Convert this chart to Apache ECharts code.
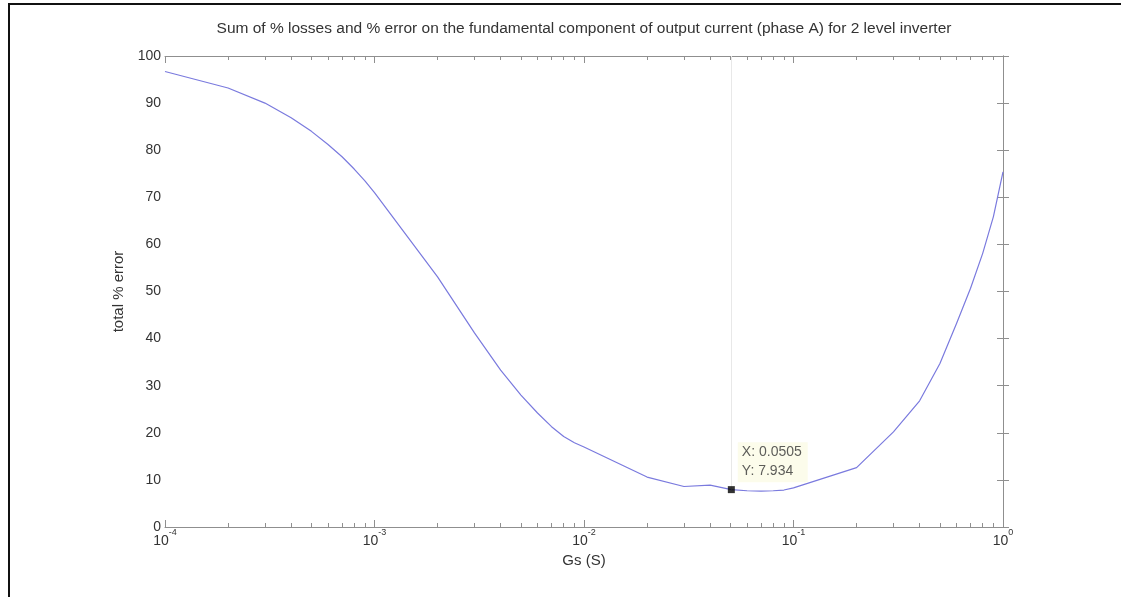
<!DOCTYPE html>
<html>
<head>
<meta charset="utf-8">
<script src="https://cdn.jsdelivr.net/npm/echarts@6/dist/echarts.min.js"></script>
<style>
html, body { margin: 0; padding: 0; background: #fff; }
#chart { width: 1121px; height: 597px; }
</style>
</head>
<body>
<div id="chart"></div>
<script>
// Gs (S) sample points and total % error
var gsValues = [
    1e-4, 2e-4, 3e-4, 4e-4, 5e-4, 6e-4, 7e-4, 8e-4, 9e-4,
    1e-3, 2e-3, 3e-3, 4e-3, 5e-3, 6e-3, 7e-3, 8e-3, 9e-3,
    1e-2, 2e-2, 3e-2, 4e-2, 0.0505, 6e-2, 7e-2, 8e-2, 9e-2,
    1e-1, 2e-1, 3e-1, 4e-1, 5e-1, 6e-1, 7e-1, 8e-1, 9e-1,
    1
];
var errValues = [
    96.7, 93.2, 90.0, 86.9, 84.0, 81.2, 78.6, 76.0, 73.5,
    71.0, 53.1, 41.2, 33.3, 28.0, 24.2, 21.3, 19.2, 17.9,
    17.0, 10.6, 8.6, 8.9, 7.934, 7.7, 7.6, 7.7, 7.85,
    8.3, 12.6, 20.2, 26.8, 34.7, 43.2, 50.7, 58.1, 65.9,
    75.4
];
var xExponents = [-4, -3, -2, -1, 0];
var minorSteps = [2, 3, 4, 5, 6, 7, 8, 9];
var yTicks = [0, 10, 20, 30, 40, 50, 60, 70, 80, 90, 100];

// data tip
var tipX = 0.0505;
var tipY = 7.934;

var titleText = 'Sum of % losses and % error on the fundamental component of output current (phase A) for 2 level inverter';
var FONT = '"Liberation Sans", Arial, sans-serif';
var axisColor = '#8f8f8f';
var textColor = '#333';

// minor tick positions in log10 units
var minorTicks = [];
for (var d = xExponents[0]; d < xExponents[xExponents.length - 1]; d++) {
    minorSteps.forEach(function (k) {
        minorTicks.push(Math.log10(k) + d);
    });
}

var lineData = gsValues.map(function (g, i) { return [g, errValues[i]]; });

function majorAxis(pos, showLabel) {
    return {
        type: 'log',
        logBase: 10,
        position: pos,
        min: Math.pow(10, xExponents[0]),
        max: Math.pow(10, xExponents[xExponents.length - 1]),
        splitNumber: 4,
        name: showLabel ? 'Gs (S)' : '',
        nameLocation: 'middle',
        nameGap: 25,
        nameTextStyle: { fontFamily: FONT, fontSize: 15, color: textColor },
        axisLine: { show: true, lineStyle: { color: axisColor, width: 1 } },
        axisTick: { show: true, inside: true, length: 7, lineStyle: { color: axisColor } },
        splitLine: { show: false },
        axisLabel: {
            show: showLabel,
            margin: 1,
            formatter: function (v) {
                var e = Math.round(Math.log10(v));
                return '{b|10}{s|' + e + '}';
            },
            rich: {
                b: { fontFamily: FONT, fontSize: 14, color: textColor, lineHeight: 20, verticalAlign: 'bottom' },
                s: { fontFamily: FONT, fontSize: 9, color: textColor, lineHeight: 11, verticalAlign: 'top' }
            }
        }
    };
}

function minorAxis(pos) {
    return {
        type: 'value',
        position: pos,
        min: xExponents[0],
        max: xExponents[xExponents.length - 1],
        axisLine: { show: false },
        axisLabel: { show: false },
        splitLine: { show: false },
        axisTick: {
            show: true, inside: true, length: 4,
            customValues: minorTicks,
            lineStyle: { color: axisColor }
        }
    };
}

function yAxis(pos, showLabel) {
    return {
        type: 'value',
        position: pos,
        min: yTicks[0],
        max: yTicks[yTicks.length - 1],
        interval: 10,
        name: showLabel ? 'total % error' : '',
        nameLocation: 'middle',
        nameGap: 37,
        nameTextStyle: { fontFamily: FONT, fontSize: 15, color: textColor },
        axisLine: { show: true, lineStyle: { color: axisColor, width: 1 } },
        axisTick: { show: true, inside: true, length: 6, lineStyle: { color: axisColor } },
        splitLine: { show: false },
        axisLabel: {
            show: showLabel,
            margin: 4,
            fontFamily: FONT, fontSize: 14, color: textColor
        }
    };
}

var chart = echarts.init(document.getElementById('chart'));
var option = {
    backgroundColor: '#fff',
    animation: false,
    title: {
        text: titleText,
        left: 584,
        top: 21,
        padding: 0,
        textAlign: 'center',
        textStyle: { fontFamily: FONT, fontSize: 15.5, fontWeight: 'normal', color: textColor }
    },
    graphic: [{
        type: 'polyline',
        shape: { points: [[9, 597], [9, 4], [1121, 4]] },
        style: { stroke: '#111', lineWidth: 2, fill: null }
    }],
    grid: { left: 165, right: 118, top: 56, bottom: 70, containLabel: false },
    xAxis: [
        majorAxis('bottom', true),
        minorAxis('bottom'),
        majorAxis('top', false),
        minorAxis('top')
    ],
    yAxis: [
        yAxis('left', true),
        yAxis('right', false)
    ],
    series: [
        {
            type: 'line',
            xAxisIndex: 0,
            yAxisIndex: 0,
            data: lineData,
            symbol: 'none',
            smooth: false,
            z: 2,
            lineStyle: { color: '#7a7ade', width: 1.2 },
            markLine: {
                silent: true,
                symbol: 'none',
                label: { show: false },
                lineStyle: { color: '#e8e8e8', width: 1, type: 'solid' },
                data: [[
                    { coord: [tipX, yTicks[yTicks.length - 1]] },
                    { coord: [tipX, tipY] }
                ]]
            }
        },
        {
            type: 'scatter',
            xAxisIndex: 0,
            yAxisIndex: 0,
            z: 5,
            data: [[tipX, tipY]],
            symbol: 'rect',
            symbolSize: 7,
            itemStyle: { color: '#000' },
            label: {
                show: true,
                position: [10, -44],
                align: 'left',
                verticalAlign: 'top',
                formatter: function (p) {
                    return 'X: ' + p.value[0] + '\nY: ' + p.value[1];
                },
                fontFamily: FONT,
                fontSize: 14,
                lineHeight: 19,
                color: textColor,
                backgroundColor: '#fbfbe6',
                padding: [1, 6, 1, 4]
            }
        }
    ]
};
chart.setOption(option);
</script>
</body>
</html>
